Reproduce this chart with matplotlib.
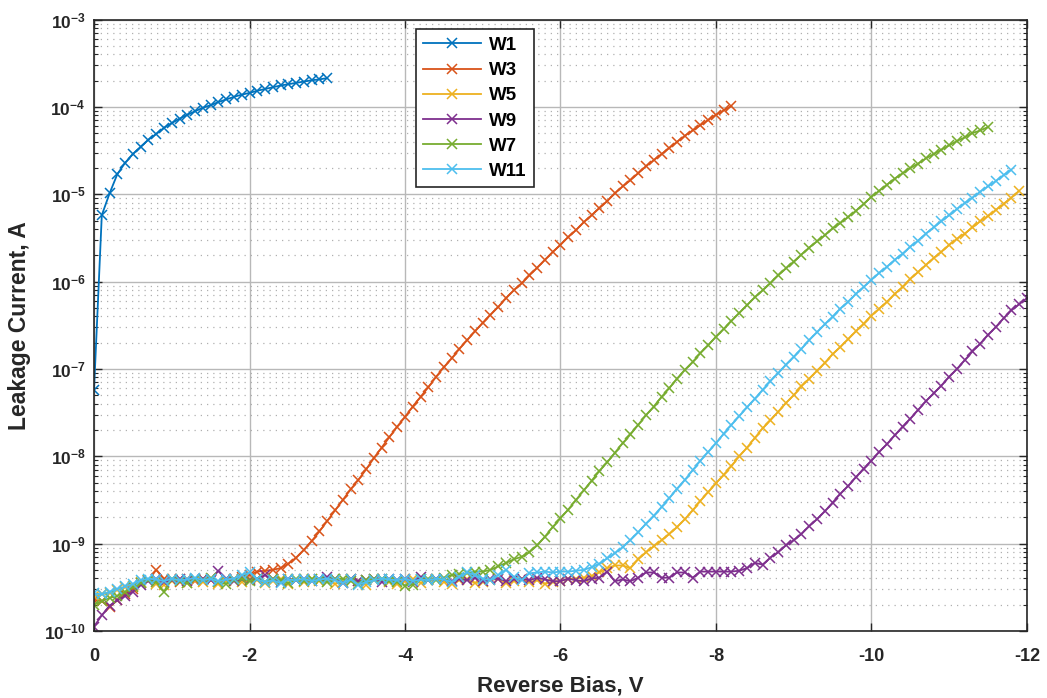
import numpy as np
import matplotlib.pyplot as plt
from matplotlib.ticker import FixedLocator, NullFormatter

plt.rcParams['font.family'] = 'Liberation Sans'
plt.rcParams['font.weight'] = 'bold'
plt.rcParams['axes.unicode_minus'] = False
plt.rcParams['mathtext.fontset'] = 'custom'
plt.rcParams['mathtext.rm'] = 'Liberation Sans:bold'
plt.rcParams['mathtext.it'] = 'Liberation Sans:bold'
plt.rcParams['mathtext.bf'] = 'Liberation Sans:bold'

# reverse bias sweep, 0.1 V steps
bias = -0.1 * np.arange(121)

# log10 of leakage current (A) at each bias step
w1 = [-7.24, -5.24, -4.99, -4.77, -4.64, -4.54, -4.455, -4.375, -4.31, -4.24,
      -4.185, -4.135, -4.09, -4.05, -4.01, -3.98, -3.945, -3.915, -3.885, -3.86,
      -3.84, -3.815, -3.795, -3.775, -3.755, -3.74, -3.725, -3.71, -3.695, -3.685,
      -3.67]

w3 = [-9.64, -9.66, -9.72, -9.65, -9.58, -9.52, -9.45, -9.42, -9.30, -9.40,
      -9.42, -9.44, -9.41, -9.43, -9.40, -9.42, -9.44, -9.41, -9.40, -9.38,
      -9.36, -9.32, -9.31, -9.30, -9.28, -9.23, -9.16, -9.07, -8.97, -8.86,
      -8.74, -8.62, -8.50, -8.38, -8.27, -8.15, -8.02, -7.90, -7.78, -7.66,
      -7.55, -7.43, -7.32, -7.21, -7.09, -6.98, -6.88, -6.77, -6.67, -6.57,
      -6.47, -6.38, -6.29, -6.19, -6.10, -6.02, -5.93, -5.84, -5.75, -5.66,
      -5.58, -5.49, -5.41, -5.32, -5.24, -5.16, -5.08, -4.99, -4.91, -4.84,
      -4.76, -4.68, -4.61, -4.54, -4.47, -4.40, -4.33, -4.27, -4.21, -4.15,
      -4.09, -4.04, -3.99]

w5 = [-9.60, -9.58, -9.56, -9.53, -9.50, -9.48, -9.44, -9.42, -9.46, -9.47,
      -9.43, -9.41, -9.45, -9.42, -9.44, -9.40, -9.46, -9.43, -9.41, -9.44,
      -9.40, -9.42, -9.45, -9.43, -9.41, -9.46, -9.42, -9.44, -9.41, -9.43,
      -9.42, -9.46, -9.44, -9.41, -9.43, -9.47, -9.42, -9.40, -9.44, -9.46,
      -9.43, -9.41, -9.45, -9.42, -9.40, -9.44, -9.46, -9.42, -9.41, -9.45,
      -9.44, -9.42, -9.40, -9.45, -9.43, -9.41, -9.44, -9.42, -9.46, -9.44,
      -9.43, -9.40, -9.40, -9.39, -9.37, -9.33, -9.28, -9.25, -9.25, -9.28,
      -9.18, -9.10, -9.03, -8.96, -8.89, -8.81, -8.72, -8.62, -8.51, -8.41,
      -8.31, -8.21, -8.11, -8.00, -7.90, -7.79, -7.68, -7.59, -7.49, -7.39,
      -7.30, -7.20, -7.11, -7.02, -6.93, -6.83, -6.75, -6.66, -6.57, -6.48,
      -6.39, -6.31, -6.23, -6.14, -6.06, -5.97, -5.89, -5.81, -5.73, -5.66,
      -5.58, -5.51, -5.45, -5.38, -5.31, -5.25, -5.18, -5.11, -5.04, -4.96]

w9 = [-9.95, -9.82, -9.71, -9.65, -9.60, -9.55, -9.47, -9.43, -9.41, -9.44,
      -9.42, -9.40, -9.43, -9.41, -9.40, -9.42, -9.31, -9.40, -9.43, -9.41,
      -9.42, -9.40, -9.36, -9.41, -9.44, -9.40, -9.42, -9.41, -9.43, -9.40,
      -9.38, -9.41, -9.45, -9.40, -9.43, -9.42, -9.40, -9.44, -9.41, -9.42,
      -9.40, -9.44, -9.38, -9.42, -9.40, -9.41, -9.43, -9.40, -9.42, -9.39,
      -9.43, -9.41, -9.40, -9.43, -9.41, -9.40, -9.42, -9.39, -9.41, -9.43,
      -9.43, -9.40, -9.42, -9.43, -9.40, -9.39, -9.32, -9.43, -9.41, -9.43,
      -9.39, -9.33, -9.33, -9.39, -9.39, -9.33, -9.33, -9.39, -9.32, -9.32,
      -9.32, -9.32, -9.32, -9.31, -9.28, -9.22, -9.24, -9.16, -9.10, -9.02,
      -8.96, -8.89, -8.80, -8.72, -8.63, -8.53, -8.43, -8.34, -8.24, -8.14,
      -8.05, -7.95, -7.86, -7.76, -7.66, -7.57, -7.47, -7.37, -7.28, -7.19,
      -7.09, -7.00, -6.90, -6.80, -6.71, -6.61, -6.52, -6.42, -6.33, -6.26,
      -6.19]

w7 = [-9.70, -9.66, -9.62, -9.60, -9.55, -9.50, -9.45, -9.42, -9.44, -9.55,
      -9.40, -9.43, -9.45, -9.41, -9.42, -9.39, -9.44, -9.46, -9.42, -9.40,
      -9.43, -9.41, -9.44, -9.40, -9.42, -9.45, -9.41, -9.43, -9.40, -9.42,
      -9.44, -9.41, -9.40, -9.43, -9.46, -9.42, -9.40, -9.41, -9.43, -9.44,
      -9.48, -9.47, -9.41, -9.40, -9.42, -9.39, -9.36, -9.35, -9.34, -9.32,
      -9.32, -9.30, -9.26, -9.22, -9.18, -9.15, -9.10, -9.02, -8.92, -8.81,
      -8.71, -8.61, -8.50, -8.39, -8.28, -8.17, -8.07, -7.96, -7.85, -7.75,
      -7.64, -7.53, -7.43, -7.32, -7.22, -7.11, -7.01, -6.92, -6.82, -6.73,
      -6.63, -6.54, -6.45, -6.36, -6.27, -6.18, -6.10, -6.02, -5.93, -5.85,
      -5.77, -5.69, -5.61, -5.54, -5.47, -5.39, -5.33, -5.26, -5.19, -5.11,
      -5.03, -4.96, -4.89, -4.82, -4.76, -4.70, -4.65, -4.59, -4.54, -4.49,
      -4.44, -4.39, -4.35, -4.30, -4.27, -4.23]

w11 = [-9.57, -9.58, -9.55, -9.52, -9.49, -9.46, -9.42, -9.40, -9.41, -9.43,
       -9.40, -9.42, -9.41, -9.39, -9.42, -9.40, -9.43, -9.41, -9.40, -9.36,
       -9.33, -9.41, -9.44, -9.42, -9.45, -9.41, -9.42, -9.40, -9.43, -9.41,
       -9.40, -9.42, -9.45, -9.41, -9.47, -9.44, -9.42, -9.40, -9.41, -9.42,
       -9.40, -9.43, -9.41, -9.42, -9.40, -9.41, -9.44, -9.38, -9.33, -9.36,
       -9.40, -9.42, -9.36, -9.30, -9.38, -9.42, -9.34, -9.33, -9.32, -9.33,
       -9.32, -9.32, -9.31, -9.30, -9.27, -9.23, -9.17, -9.11, -9.04, -8.96,
       -8.87, -8.77, -8.68, -8.58, -8.48, -8.37, -8.27, -8.16, -8.05, -7.95,
       -7.85, -7.74, -7.64, -7.54, -7.44, -7.34, -7.24, -7.14, -7.05, -6.95,
       -6.86, -6.77, -6.67, -6.58, -6.49, -6.40, -6.31, -6.23, -6.14, -6.06,
       -5.98, -5.90, -5.83, -5.75, -5.68, -5.60, -5.53, -5.45, -5.38, -5.31,
       -5.24, -5.17, -5.10, -5.04, -4.97, -4.91, -4.85, -4.78, -4.72]

labels = ['W1', 'W3', 'W5', 'W9', 'W7', 'W11']
colors = ['#0072BD', '#D95319', '#EDB120', '#7E2F8E', '#77AC30', '#4DBEEE']
series = [w1, w3, w5, w9, w7, w11]

fig = plt.figure(figsize=(10.47, 6.98), dpi=100)
ax = fig.add_axes([0.0898, 0.096, 0.891, 0.876])

for lab, col, s in zip(labels, colors, series):
    cur = 10.0 ** np.array(s)
    ax.plot(bias[:len(cur)], cur, '-x', color=col, lw=1.3, ms=7, mew=1.1, label=lab)

ax.set_yscale('log')
ax.set_xlim(0, -12)
ax.set_ylim(1e-10, 1e-3)

xt = [0, -2, -4, -6, -8, -10, -12]
ax.set_xticks(xt)
ax.set_xticklabels([str(v) for v in xt])
yt = [10.0 ** e for e in range(-10, -2)]
ax.yaxis.set_major_locator(FixedLocator(yt))
ax.set_yticklabels(['$10^{%d}$' % e for e in range(-10, -2)])
ymin = [m * 10.0 ** e for e in range(-10, -3) for m in range(2, 10)]
ax.yaxis.set_minor_locator(FixedLocator(ymin))
ax.yaxis.set_minor_formatter(NullFormatter())

ax.tick_params(which='both', direction='in', top=True, right=True,
               colors='#262626', labelcolor='#262626')
ax.tick_params(which='major', length=6, width=1)
ax.tick_params(which='minor', length=3, width=0.8)
ax.tick_params(axis='x', labelsize=13, pad=12)
ax.tick_params(axis='y', labelsize=12.5, pad=6)
for sp in ax.spines.values():
    sp.set_color('#262626')
    sp.set_linewidth(1.2)

ax.grid(True, which='major', color='#b8b8b8', lw=1)
ax.yaxis.grid(True, which='minor', color='#b0b0b0', ls=(0, (1, 4)), lw=0.9)
ax.set_axisbelow(True)

ax.set_xlabel('Reverse Bias, V', fontsize=16, fontweight='bold', color='#262626', labelpad=8)
ax.set_ylabel('Leakage Current, A', fontsize=16.5, fontweight='bold', color='#262626')
ax.yaxis.set_label_coords(-0.068, 0.5)

leg = ax.legend(loc='upper left', bbox_to_anchor=(0.345, 0.984), borderaxespad=0,
                fancybox=False, edgecolor='#262626', framealpha=1,
                handlelength=3.1, labelspacing=0.43, borderpad=0.4,
                handletextpad=0.4, prop={'size': 13.5, 'weight': 'bold'})
leg.get_frame().set_linewidth(1.2)

fig.savefig('out.png', dpi=100)
